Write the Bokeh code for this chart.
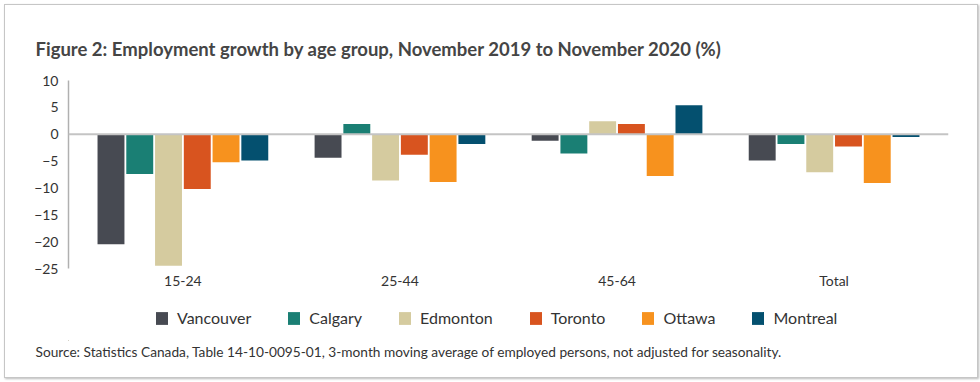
from bokeh.plotting import figure
from bokeh.layouts import column
from bokeh.models import (Range1d, FactorRange, Span, Legend, LegendItem, Title,
                          FixedTicker, ColumnDataSource)
from bokeh.transform import dodge
from bokeh.embed import file_html
from bokeh.resources import INLINE

groups = ["15-24", "25-44", "45-64", "Total"]
cities = ["Vancouver", "Calgary", "Edmonton", "Toronto", "Ottawa", "Montreal"]
vancouver = [-20.5, -4.4, -1.2, -4.9]
calgary = [-7.4, 1.9, -3.6, -1.8]
edmonton = [-24.5, -8.6, 2.4, -7.1]
toronto = [-10.2, -3.8, 1.9, -2.3]
ottawa = [-5.2, -8.9, -7.8, -9.1]
montreal = [-4.9, -1.8, 5.4, -0.5]
colors = ["#474a52", "#1a7f74", "#d5cb9f", "#d8541f", "#f7921e", "#04506f"]
y_ticks = [10, 5, 0, -5, -10, -15, -20, -25]

title_text = "Figure 2: Employment growth by age group, November 2019 to November 2020 (%)"
source_text = ("Source: Statistics Canada, Table 14-10-0095-01, 3-month moving average "
               "of employed persons, not adjusted for seasonality.")

FONT = "Lato"
TXT = "#333333"
W = 972

src = ColumnDataSource(dict(g=groups, Vancouver=vancouver, Calgary=calgary,
                            Edmonton=edmonton, Toronto=toronto, Ottawa=ottawa,
                            Montreal=montreal))

# ---- main chart ----
p = figure(width=W, height=300,
           x_range=FactorRange(*groups, range_padding=0.0135),
           y_range=Range1d(-25, 10), output_backend="svg", toolbar_location=None,
           min_border_left=63, min_border_right=29, min_border_top=75,
           min_border_bottom=37)
p.outline_line_color = None
p.grid.grid_line_color = None
p.background_fill_color = "white"
p.border_fill_color = "white"

p.title.text = title_text
p.title.align = "left"
p.title.offset = -33
p.title.standoff = 41
p.title.text_font = FONT
p.title.text_font_size = "18.5px"
p.title.text_font_style = "bold"
p.title.text_color = "#454545"

pitch = 0.1325
width = 0.124
for i, (c, col) in enumerate(zip(cities, colors)):
    p.vbar(x=dodge("g", (i - 2.5) * pitch, range=p.x_range), top=c, bottom=0,
           width=width, source=src, fill_color=col, line_color=None)

p.add_layout(Span(location=0, dimension="width", line_color="#c4c4c4", line_width=2))

p.yaxis.ticker = FixedTicker(ticks=y_ticks)
p.yaxis.axis_line_color = "#b0b0b0"
p.yaxis.axis_line_width = 1.5
p.yaxis.major_tick_line_color = None
p.yaxis.major_tick_out = 0
p.yaxis.minor_tick_line_color = None
p.yaxis.major_label_text_font = FONT
p.yaxis.major_label_text_font_size = "14px"
p.yaxis.major_label_text_color = TXT
p.yaxis.major_label_standoff = 10

p.xaxis.axis_line_color = None
p.xaxis.major_tick_line_color = None
p.xaxis.major_tick_out = 0
p.xaxis.major_tick_in = 0
p.xaxis.major_label_text_font = FONT
p.xaxis.major_label_text_font_size = "14px"
p.xaxis.major_label_text_color = TXT
p.xaxis.major_label_standoff = 3

# ---- footer: legend + source ----
# (its frame is aligned by the column layout with the main chart's frame)
H2 = 72
f = figure(width=W, height=H2, x_range=Range1d(0, 1), y_range=Range1d(0, 1),
           output_backend="svg", toolbar_location=None,
           x_axis_location=None, y_axis_location=None,
           min_border_left=0, min_border_right=0, min_border_top=0,
           min_border_bottom=37)
f.grid.grid_line_color = None
f.outline_line_color = None
f.background_fill_color = "white"
f.border_fill_color = "white"

# legend proxies: one bar per city lying wholly outside the footer's ranges,
# only used for its swatch colour
proxy = ColumnDataSource(dict(x=[-100], top=[-100], bottom=[-101]))
items = []
for c, col in zip(cities, colors):
    r = f.vbar(x="x", top="top", bottom="bottom", width=1, source=proxy,
               fill_color=col, line_color=None)
    items.append(LegendItem(label=c, renderers=[r]))

legend = Legend(items=items, orientation="horizontal", location=(86, 13), padding=0,
                margin=0, spacing=35, label_standoff=8, glyph_width=15, glyph_height=16,
                border_line_color=None, background_fill_alpha=0,
                label_text_font=FONT, label_text_font_size="16px", label_text_color=TXT)
f.add_layout(legend)

f.add_layout(Title(text=source_text, align="left", offset=-33, standoff=0,
                   text_font=FONT, text_font_size="13.7px", text_font_style="normal",
                   text_color=TXT), "below")

layout = column(p, f, spacing=0)
layout.styles = {"margin-left": "4px", "margin-top": "4px",
                 "border": "1px solid #c6c6c6", "box-shadow": "1px 1px 2px #bbbbbb"}

open("out.html", "w").write(file_html(layout, INLINE))
